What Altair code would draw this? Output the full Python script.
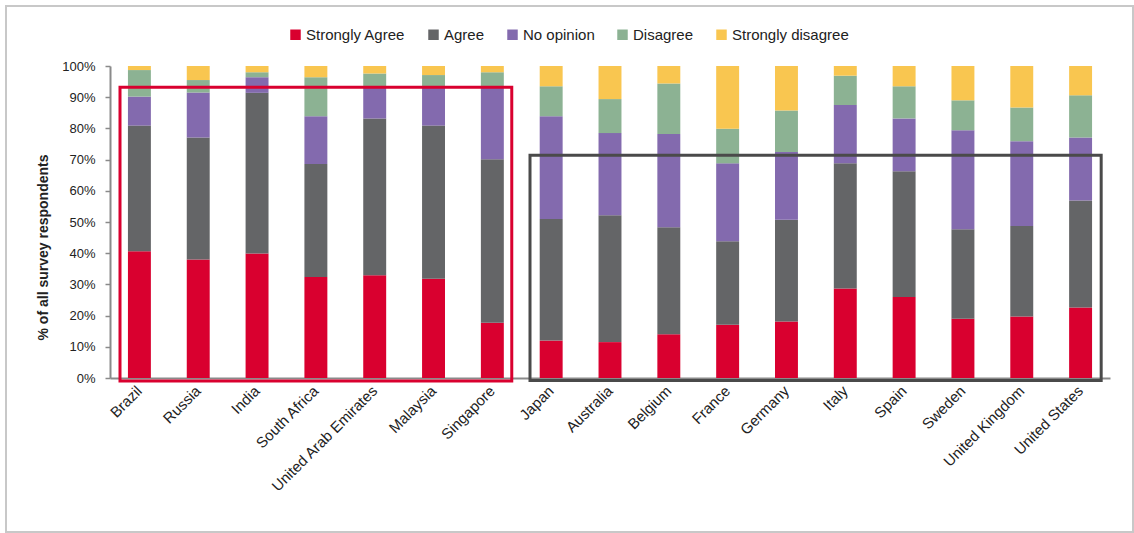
import altair as alt
import pandas as pd

countries = ["Brazil", "Russia", "India", "South Africa", "United Arab Emirates",
             "Malaysia", "Singapore", "Japan", "Australia", "Belgium", "France",
             "Germany", "Italy", "Spain", "Sweden", "United Kingdom", "United States"]
categories = ["Strongly Agree", "Agree", "No opinion", "Disagree", "Strongly disagree"]
colors = ["#d9002f", "#646567", "#836aae", "#8cb293", "#f9c650"]

strongly_agree = [40.6, 38.0, 39.9, 32.4, 32.9, 31.8, 17.7, 12.0, 11.5, 14.0, 17.1, 18.1, 28.7, 26.0, 19.0, 19.7, 22.6]
agree = [40.3, 39.1, 51.5, 36.2, 50.3, 49.1, 52.4, 39.0, 40.7, 34.3, 26.7, 32.6, 40.1, 40.3, 28.7, 29.0, 34.3]
no_opinion = [9.3, 14.4, 5.0, 15.3, 9.8, 12.1, 22.9, 32.9, 26.3, 29.9, 25.0, 21.7, 18.7, 16.9, 31.7, 27.2, 20.2]
disagree = [8.5, 4.0, 1.6, 12.5, 4.6, 4.1, 5.0, 9.6, 10.9, 16.2, 11.1, 13.3, 9.4, 10.3, 9.6, 10.8, 13.5]
strongly_disagree = [1.3, 4.5, 2.0, 3.6, 2.4, 2.9, 2.0, 6.5, 10.6, 5.6, 20.1, 14.3, 3.1, 6.5, 11.0, 13.3, 9.4]

# annotation boxes (x in category-index units, y in percent)
box_names = ["emerging", "developed"]
box_x0 = [0.17, 7.14]
box_x1 = [6.83, 16.85]
box_y_top = [93.2, 71.4]
box_y_bottom = [-1.0, -0.8]
box_colors = ["#d9002f", "#4a4a4a"]

series = [strongly_agree, agree, no_opinion, disagree, strongly_disagree]
rows = []
for k, (cat, vals) in enumerate(zip(categories, series)):
    for c, v in zip(countries, vals):
        rows.append({"country": c, "response": cat, "value": v, "order": k})
df = pd.DataFrame(rows)

boxes = pd.DataFrame({"name": box_names, "x0": box_x0, "x1": box_x1,
                      "y0": box_y_bottom, "y1": box_y_top, "color": box_colors})

FONT = "Liberation Sans"
yscale = alt.Scale(domain=[0, 100], nice=False)
yaxis = alt.Axis(values=list(range(0, 101, 10)), labelExpr="datum.value + '%'",
                 title="% of all survey respondents", titleFontWeight="bold",
                 titleFontSize=14, titleY=181, titleX=-60, titleAlign="center",
                 labelFontSize=13, labelColor="#222222",
                 titleColor="#222222", domainColor="#8a8a8a", domainWidth=2,
                 tickColor="#8a8a8a", tickSize=5, tickWidth=1.5, grid=False, labelPadding=10)

bars = alt.Chart(df).mark_bar().encode(
    x=alt.X("country:N", sort=countries,
            scale=alt.Scale(paddingInner=0.61, paddingOuter=0.305),
            axis=alt.Axis(title=None, labelAngle=315, labelAlign="right", labelBaseline="middle",
                          labelFontSize=15, labelColor="#222222", ticks=False,
                          domainColor="#8a8a8a", domainWidth=2, labelPadding=10)),
    y=alt.Y("value:Q", stack="zero", scale=yscale, axis=yaxis),
    color=alt.Color("response:N", sort=categories,
                    scale=alt.Scale(domain=categories, range=colors),
                    legend=alt.Legend(title=None, orient="none", direction="horizontal",
                                      legendX=178, legendY=-39, symbolType="square",
                                      symbolSize=110, symbolStrokeWidth=0, labelFontSize=15,
                                      labelColor="#222222", labelOffset=3, columnPadding=20,
                                      labelFont=FONT)),
    order=alt.Order("order:Q", sort="ascending"),
)

box_layer = alt.Chart(boxes).mark_rect(fill="transparent", strokeWidth=3, strokeJoin="miter").encode(
    x=alt.X("x0:Q", scale=alt.Scale(domain=[0, 17], nice=False, zero=False), axis=None),
    x2="x1:Q",
    y=alt.Y("y0:Q", scale=yscale, axis=yaxis),
    y2="y1:Q",
    stroke=alt.Stroke("color:N", scale=None),
)

frame = alt.Chart(pd.DataFrame({"f": [1]})).mark_rect(
    fill="transparent", stroke="#c8c8c8", strokeWidth=2
).encode(x=alt.value(-104), x2=alt.value(1023), y=alt.value(-60), y2=alt.value(466))

chart = alt.layer(frame, bars, box_layer).resolve_scale(x="independent").properties(
    width=1000, height=312,
    autosize=alt.AutoSizeParams(type="none"),
    padding={"left": 110, "top": 66, "right": 24, "bottom": 155},
).configure(font=FONT).configure_view(stroke=None)

chart.save("out.html", embed_options={"renderer": "svg", "actions": False})
